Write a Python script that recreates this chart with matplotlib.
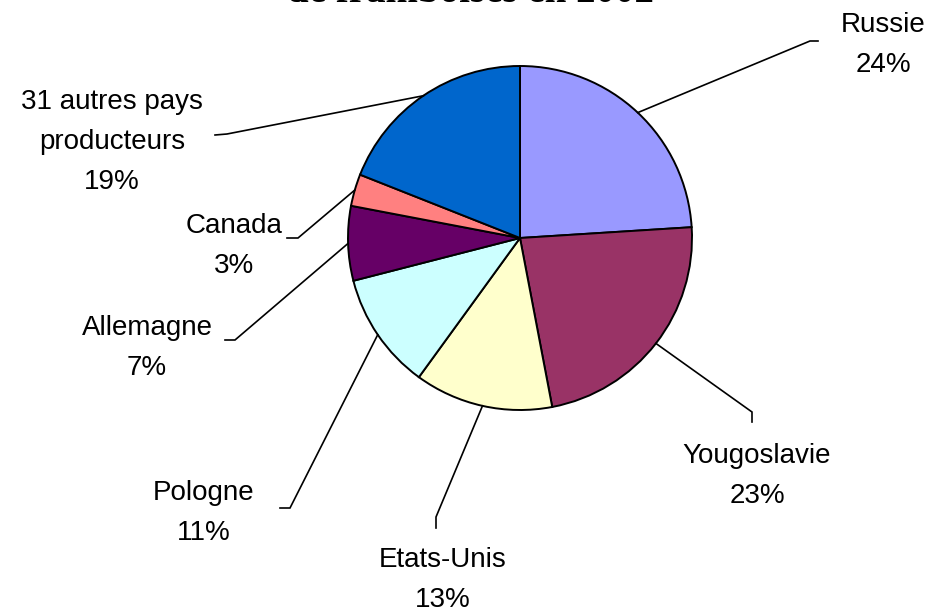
import numpy as np
import matplotlib.pyplot as plt

# part de la production mondiale de framboises, 2002
pays = ["Russie", "Yougoslavie", "Etats-Unis", "Pologne", "Allemagne",
        "Canada", "31 autres pays\nproducteurs"]
parts = [24, 23, 13, 11, 7, 3, 19]
couleurs = ["#9999FF", "#993366", "#FFFFCC", "#CCFFFF", "#660066",
            "#FF8080", "#0066CC"]

W, H = 936, 613

# label layout in pixel coords (from the top): text centre, elbow, stub end
label_pos = [(883, 45), (757, 476), (443, 580), (204, 513), (147, 348),
             (234, 246), (112, 142)]
elbows = [(810, 41), (752, 412), (436, 517), (290, 508), (235, 340),
          (298, 238), (227, 134)]
stubs = [(818, 41), (752, 422), (436, 528), (280, 508), (225, 340),
         (287, 238), (215, 135)]


def fy(y):
    return H - y


fig = plt.figure(figsize=(W / 100, H / 100), dpi=100)
ax = fig.add_axes([0, 0, 1, 1])

cx, cy, r = 520, fy(238), 172
wedges, _ = ax.pie(parts, colors=couleurs, startangle=90, counterclock=False,
                   center=(cx, cy), radius=r, frame=True,
                   wedgeprops=dict(edgecolor="black", linewidth=1.4))
ax.set_xlim(0, W)
ax.set_ylim(0, H)
ax.axis("off")

for w, nom, p, (tx, ty), (ex, ey), (sx, sy) in zip(wedges, pays, parts,
                                                   label_pos, elbows, stubs):
    ang = np.deg2rad((w.theta1 + w.theta2) / 2)
    x0 = cx + r * np.cos(ang)
    y0 = cy + r * np.sin(ang)
    ax.plot([x0, ex, sx], [y0, fy(ey), fy(sy)], color="black", lw=1.2,
            solid_joinstyle="miter")
    ax.text(tx, fy(ty), f"{nom}\n{p}%", ha="center", va="center",
            multialignment="center", fontsize=20, family="Liberation Sans",
            linespacing=1.7)

# title, mostly cut off at the top of the frame (as in the source)
ax.text(470, fy(2), "de framboises en 2002", ha="center", va="baseline",
        fontsize=28, fontweight="bold", family="Liberation Serif")

fig.savefig("out.png", dpi=100)
